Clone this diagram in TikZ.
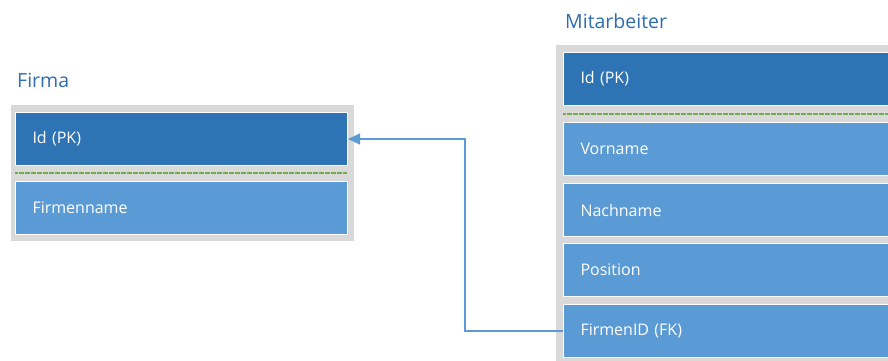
\documentclass[tikz,border=0pt]{standalone}
\usepackage{fontspec}
\setmainfont{Open Sans}
\usepackage{tikz}
\usetikzlibrary{arrows.meta, positioning}
\definecolor{keyblue}{HTML}{2E74B5}
\definecolor{rowblue}{HTML}{5B9BD5}
\definecolor{tablegray}{HTML}{D9D9D9}
\definecolor{titleblue}{HTML}{2E6DAE}
\definecolor{keygreen}{HTML}{70AD47}
\tikzset{tablebox/.style={fill=tablegray, draw=none, anchor=north west, inner sep=0pt}}
\tikzset{row/.style={fill=rowblue, draw=white, line width=1pt, anchor=north west, minimum height=53pt, minimum width=#1, text=white, inner xsep=17pt, align=left, text width=#1-34pt, font=\fontsize{16}{19}\selectfont}}
\tikzset{row/.default=332pt}
\tikzset{keyrow/.style={row=#1, fill=keyblue}}
\tikzset{keyrow/.default=332pt}
\tikzset{title/.style={anchor=west, inner sep=0pt, text=titleblue, font=\fontsize{19.5}{22}\selectfont}}
\tikzset{keyline/.style={keygreen, dash pattern=on 0.6pt off 0.6pt, line width=1.2pt}}
\tikzset{fk/.style={draw=rowblue, line width=1.2pt, -{Triangle[width=11pt, length=12pt]}}}

\begin{document}
\begin{tikzpicture}[x=1pt, y=-1pt]
            \useasboundingbox (0, 0) rectangle (888, 360);
            % Firma
            \node[title] (firma) at (17, 80) {Firma};
            \node[tablebox, minimum width=343pt, minimum height=136pt] (firmatab) at (11, 105) {};
            \node[keyrow] (firmaid) at (15, 112) {Id (PK)};
            \draw[keyline] (15, 173) -- (347, 173);
            \node[row] (firmaname) at (15, 181) {Firmenname};
            % Mitarbeiter
            \node[title] (mitarbeiter) at (565, 21) {Mitarbeiter};
            \node[tablebox, minimum width=350pt, minimum height=330pt] (mitab) at (556, 45) {};
            \node[keyrow=335pt] (miid) at (563, 52) {Id (PK)};
            \draw[keyline] (563, 114) -- (895, 114);
            \foreach \y/\name/\label in {122/vorname/Vorname, 183/nachname/Nachname, 243/position/Position, 304/firmenid/FirmenID (FK)} {
                \node[row=335pt] (\name) at (563, \y) {\label};
            }
            % Fremdschluessel
            \coordinate (knick) at (465, 0);
            \draw[fk] (firmenid.west) -- (knick |- firmenid.west) |- (firmaid.east);
        \end{tikzpicture}
\end{document}
